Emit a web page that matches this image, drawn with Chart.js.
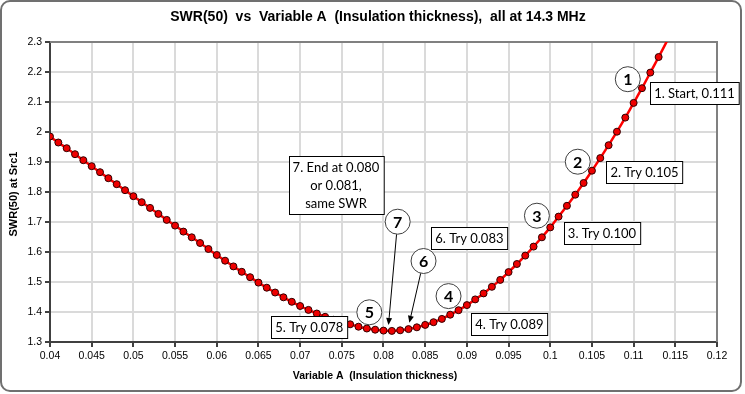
<!DOCTYPE html>
<html>
<head>
<meta charset="utf-8">
<script src="https://cdn.jsdelivr.net/npm/chart.js@4"></script>
<style>
  html, body { margin: 0; padding: 0; background: #fff; }
  canvas { display: block; }
</style>
</head>
<body>
<canvas id="swrChart" width="745" height="394"></canvas>
<script>
// insulation thickness (Variable A) and the SWR read at each step
const thickness = [
  0.040, 0.041, 0.042, 0.043, 0.044, 0.045, 0.046, 0.047, 0.048, 0.049,
  0.050, 0.051, 0.052, 0.053, 0.054, 0.055, 0.056, 0.057, 0.058, 0.059,
  0.060, 0.061, 0.062, 0.063, 0.064, 0.065, 0.066, 0.067, 0.068, 0.069,
  0.070, 0.071, 0.072, 0.073, 0.074, 0.075, 0.076, 0.077, 0.078, 0.079,
  0.080, 0.081, 0.082, 0.083, 0.084, 0.085, 0.086, 0.087, 0.088, 0.089,
  0.090, 0.091, 0.092, 0.093, 0.094, 0.095, 0.096, 0.097, 0.098, 0.099,
  0.100, 0.101, 0.102, 0.103, 0.104, 0.105, 0.106, 0.107, 0.108, 0.109,
  0.110, 0.111, 0.112, 0.113, 0.114
];
const swr = [
  1.985, 1.965, 1.946, 1.926, 1.906, 1.886, 1.866, 1.846, 1.826, 1.806,
  1.786, 1.766, 1.747, 1.727, 1.707, 1.688, 1.668, 1.649, 1.630, 1.610,
  1.590, 1.571, 1.552, 1.534, 1.516, 1.498, 1.481, 1.465, 1.449, 1.434,
  1.420, 1.407, 1.395, 1.384, 1.374, 1.366, 1.359, 1.351, 1.345, 1.341,
  1.338, 1.337, 1.339, 1.343, 1.349, 1.357, 1.366, 1.377, 1.391, 1.406,
  1.423, 1.442, 1.462, 1.484, 1.507, 1.533, 1.560, 1.588, 1.618, 1.649,
  1.682, 1.718, 1.754, 1.791, 1.830, 1.871, 1.913, 1.956, 2.001, 2.048,
  2.097, 2.146, 2.198, 2.250, 2.303
];
const xTickLabels = ['0.04', '0.045', '0.05', '0.055', '0.06', '0.065', '0.07', '0.075', '0.08',
  '0.085', '0.09', '0.095', '0.1', '0.105', '0.11', '0.115', '0.12'];
const yTickLabels = ['1.3', '1.4', '1.5', '1.6', '1.7', '1.8', '1.9', '2', '2.1', '2.2', '2.3'];

const chartTitle = 'SWR(50)  vs  Variable A  (Insulation thickness),  all at 14.3 MHz';
const xAxisTitle = 'Variable A  (Insulation thickness)';
const yAxisTitle = 'SWR(50) at Src1';

// numbered steps of the search, placed in data units
const stepCircles = [
  { label: '1', x: 0.1093, y: 2.176 },
  { label: '2', x: 0.1033, y: 1.901 },
  { label: '3', x: 0.0984, y: 1.721 },
  { label: '4', x: 0.0878, y: 1.453 },
  { label: '5', x: 0.0783, y: 1.399 },
  { label: '6', x: 0.0848, y: 1.570 },
  { label: '7', x: 0.0817, y: 1.701 },
];
const stepNotes = [
  { lines: ['1. Start, 0.111'], x: 0.1173, y: 2.130 },
  { lines: ['2. Try 0.105'], x: 0.1113, y: 1.866 },
  { lines: ['3. Try 0.100'], x: 0.1062, y: 1.662 },
  { lines: ['4. Try 0.089'], x: 0.0951, y: 1.359 },
  { lines: ['5. Try 0.078'], x: 0.0711, y: 1.351 },
  { lines: ['6. Try 0.083'], x: 0.0903, y: 1.648 },
  { lines: ['7. End at 0.080', 'or 0.081,', 'same SWR'], x: 0.0743, y: 1.825 },
];
const stepArrows = [
  { from: '7', x: 0.0806, y: 1.357 },
  { from: '6', x: 0.0831, y: 1.364 },
];

const ctx = document.getElementById('swrChart');

const drawArrow = function (c, x0, y0, x1, y1) {
  const ang = Math.atan2(y1 - y0, x1 - x0);
  const head = 7;
  c.strokeStyle = '#000';
  c.fillStyle = '#000';
  c.lineWidth = 1;
  c.beginPath();
  c.moveTo(x0, y0);
  c.lineTo(x1 - Math.cos(ang) * head, y1 - Math.sin(ang) * head);
  c.stroke();
  c.beginPath();
  c.moveTo(x1, y1);
  c.lineTo(x1 - Math.cos(ang) * head + Math.sin(ang) * 3, y1 - Math.sin(ang) * head - Math.cos(ang) * 3);
  c.lineTo(x1 - Math.cos(ang) * head - Math.sin(ang) * 3, y1 - Math.sin(ang) * head + Math.cos(ang) * 3);
  c.closePath();
  c.fill();
};

const notesPlugin = {
  id: 'notes',
  beforeDraw(chart) {
    const c = chart.ctx;
    c.save();
    c.fillStyle = '#fff';
    c.fillRect(0, 0, chart.width, chart.height);
    c.strokeStyle = '#707070';
    c.lineWidth = 2;
    c.beginPath();
    c.roundRect(1, 1, 740, 390, 9);
    c.stroke();
    c.restore();
  },
  beforeDatasetsDraw(chart) {
    // top and right edge of the plot area
    const { left, right, top, bottom } = chart.chartArea;
    const c = chart.ctx;
    c.save();
    c.strokeStyle = '#808080';
    c.lineWidth = 2;
    c.beginPath();
    c.moveTo(left, top);
    c.lineTo(right, top);
    c.lineTo(right, bottom);
    c.stroke();
    c.restore();
  },
  afterDraw(chart) {
    const c = chart.ctx;
    const xs = chart.scales.x;
    const ys = chart.scales.y;
    c.save();

    // titles
    c.fillStyle = '#000';
    c.textAlign = 'center';
    c.textBaseline = 'middle';
    c.font = 'bold 14px "Liberation Sans"';
    c.fillText(chartTitle, 378, 17);
    c.font = 'bold 10.5px "Liberation Sans"';
    c.fillText(xAxisTitle, 375, 376);
    c.save();
    c.translate(13.5, 194);
    c.rotate(-Math.PI / 2);
    c.font = 'bold 11px "Liberation Sans"';
    c.fillText(yAxisTitle, 0, 0);
    c.restore();

    // arrows
    const r = 12.5;
    stepArrows.forEach(a => {
      const circ = stepCircles.find(s => s.label === a.from);
      const cx = xs.getPixelForValue(circ.x), cy = ys.getPixelForValue(circ.y);
      const tx = xs.getPixelForValue(a.x), ty = ys.getPixelForValue(a.y);
      const ang = Math.atan2(ty - cy, tx - cx);
      drawArrow(c, cx + Math.cos(ang) * r, cy + Math.sin(ang) * r, tx, ty);
    });

    // note boxes
    const lineH = 18;
    c.font = '13px Lato';
    stepNotes.forEach(n => {
      const cx = xs.getPixelForValue(n.x), cy = ys.getPixelForValue(n.y);
      const w = Math.max(...n.lines.map(t => c.measureText(t).width)) + 8;
      const h = n.lines.length * lineH + 4;
      const bx = Math.round(cx - w / 2) + 0.5, by = Math.round(cy - h / 2) + 0.5;
      c.fillStyle = '#fff';
      c.fillRect(bx, by, w, h);
      c.strokeStyle = '#000';
      c.lineWidth = 1;
      c.strokeRect(bx, by, w, h);
      c.fillStyle = '#000';
      n.lines.forEach((t, i) => c.fillText(t, cx, by + 2 + lineH * (i + 0.5)));
    });

    // numbered circles
    c.font = 'bold 16px Lato';
    stepCircles.forEach(s => {
      const cx = xs.getPixelForValue(s.x), cy = ys.getPixelForValue(s.y);
      c.beginPath();
      c.arc(cx, cy, r, 0, Math.PI * 2);
      c.fillStyle = '#fff';
      c.fill();
      c.strokeStyle = '#404040';
      c.lineWidth = 1;
      c.stroke();
      c.fillStyle = '#000';
      c.fillText(s.label, cx, cy + 1);
    });

    c.restore();
  },
};

const chart = new Chart(ctx, {
  type: 'line',
  data: {
    datasets: [
      {
        label: 'SWR(50)',
        data: thickness.map((x, i) => ({ x, y: swr[i] })),
        borderColor: '#ff0000',
        borderWidth: 2.5,
        backgroundColor: '#ee0000',
        pointBackgroundColor: '#ee0000',
        pointBorderColor: '#300000',
        pointBorderWidth: 1,
        pointRadius: c => (c.raw && c.raw.y > 2.3 ? 0 : 3.5),
        tension: 0.3,
      },
    ],
  },
  options: {
    responsive: false,
    animation: false,
    devicePixelRatio: 1,
    layout: { padding: { top: 42, right: 28, left: 0, bottom: 0 } },
    plugins: {
      legend: { display: false },
      tooltip: { enabled: false },
    },
    scales: {
      x: {
        type: 'linear',
        min: 0.04,
        max: 0.12,
        ticks: {
          stepSize: 0.005,
          maxRotation: 0,
          autoSkip: false,
          padding: 3,
          color: '#000',
          font: { family: 'Liberation Sans', size: 10.5 },
          callback: (v, i) => xTickLabels[i],
        },
        grid: { color: '#dadada', lineWidth: 2, tickColor: '#404040', tickLength: 5 },
        border: { color: '#404040', width: 2 },
        afterFit: scale => { scale.height = 52; },
      },
      y: {
        min: 1.3,
        max: 2.3,
        ticks: {
          stepSize: 0.1,
          autoSkip: false,
          padding: 3,
          color: '#000',
          font: { family: 'Liberation Sans', size: 10.5 },
          callback: (v, i) => yTickLabels[i],
        },
        grid: { color: '#dadada', lineWidth: 2, tickColor: '#404040', tickLength: 5 },
        border: { color: '#404040', width: 2 },
        afterFit: scale => { scale.width = 50; },
      },
    },
  },
  plugins: [notesPlugin],
});
</script>
</body>
</html>
